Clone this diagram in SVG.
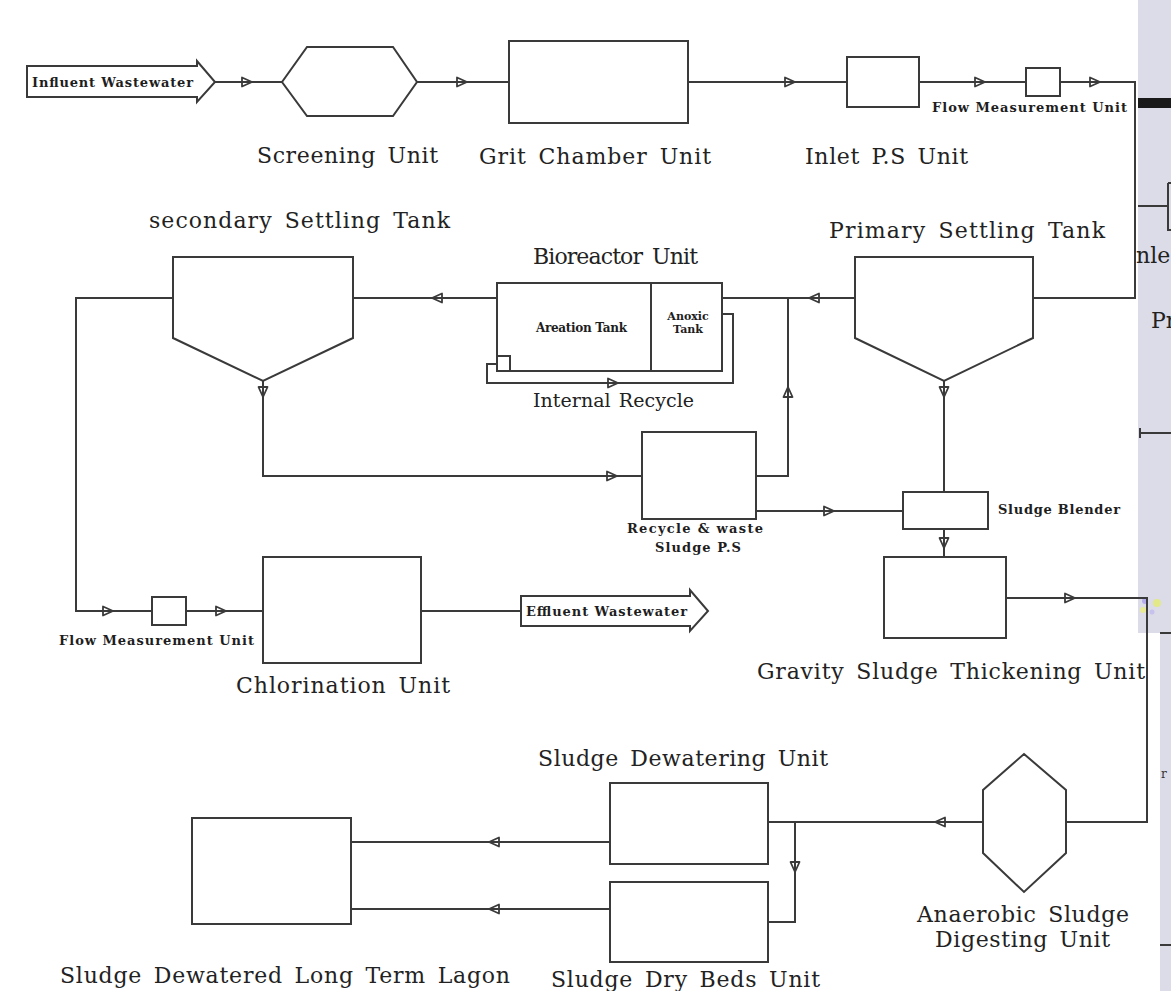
<svg xmlns="http://www.w3.org/2000/svg" width="1171" height="991" viewBox="0 0 1171 991">
<style>
.s{fill:none;stroke:#3a3a3a;stroke-width:2}
.b{fill:#fff;stroke:#3a3a3a;stroke-width:2}
.L{font-family:"DejaVu Serif","Liberation Serif",serif;font-size:22px;fill:#222;word-spacing:4px}
.B{font-family:"DejaVu Serif","Liberation Serif",serif;font-size:13px;font-weight:bold;fill:#1e1e1e}
.ah{fill:none;stroke:#3a3a3a;stroke-width:1.8;stroke-linejoin:round}
.strip{fill:#dcdce8}
</style>
<defs>
<path id="ah" class="ah" d="M-5,-4.5 L5,0 L-5,4.5 Z"/>
</defs>
<rect x="0" y="0" width="1171" height="991" fill="#fff"/>

<g id="side-strip">
<rect class="strip" x="1138" y="0" width="33" height="633"/>
<rect class="strip" x="1160" y="633" width="11" height="358"/>
<rect x="1138" y="98" width="33" height="10" fill="#1a1a1a"/>
<path class="s" d="M1138,206 H1168 M1168,183 V230 H1171 M1168,183 H1171"/>
<path class="s" d="M1140,433 H1171 M1140,428 V438"/>
<path class="s" d="M1160,633 H1171 M1160,945 H1171"/>
<text class="L" x="1136" y="263">nle</text>
<text class="L" x="1151" y="328">Pr</text>
<text x="1161" y="778" font-family="DejaVu Serif,serif" font-size="12" fill="#333">r</text>
<circle cx="1145" cy="601" r="3" fill="#9a8cf0" opacity="0.6"/>
<circle cx="1157" cy="603" r="4" fill="#e6ee60" opacity="0.7"/>
<circle cx="1143" cy="610" r="3" fill="#eef070" opacity="0.7"/>
<circle cx="1152" cy="612" r="2.5" fill="#b8b0f0" opacity="0.6"/>
</g>

<g id="connectors">
<path class="s" d="M215,82 H282"/>
<path class="s" d="M417,82 H509"/>
<path class="s" d="M688,82 H847"/>
<path class="s" d="M919,82 H1026"/>
<path class="s" d="M1060,82 H1135 V298 H1033"/>
<path class="s" d="M855,298 H722"/>
<path class="s" d="M756,476 H788 V298"/>
<path class="s" d="M497,298 H353"/>
<path class="s" d="M173,298 H76 V611 H152"/>
<path class="s" d="M186,611 H263"/>
<path class="s" d="M421,611 H521"/>
<path class="s" d="M263,381 V476 H642"/>
<path class="s" d="M944,381 V492"/>
<path class="s" d="M756,511 H903"/>
<path class="s" d="M944,529 V557"/>
<path class="s" d="M1006,598 H1147 V822 H1066"/>
<path class="s" d="M983,822 H768"/>
<path class="s" d="M795,822 V922 H768"/>
<path class="s" d="M610,842 H351"/>
<path class="s" d="M610,909 H351"/>
<path class="s" d="M498,364 H487 V383 H733 V314 H722"/>
<use href="#ah" transform="translate(247,82)"/>
<use href="#ah" transform="translate(462,82)"/>
<use href="#ah" transform="translate(790,82)"/>
<use href="#ah" transform="translate(980,82)"/>
<use href="#ah" transform="translate(1095,82)"/>
<use href="#ah" transform="translate(814,298) rotate(180)"/>
<use href="#ah" transform="translate(788,392) rotate(-90)"/>
<use href="#ah" transform="translate(437,298) rotate(180)"/>
<use href="#ah" transform="translate(108,611)"/>
<use href="#ah" transform="translate(221,611)"/>
<use href="#ah" transform="translate(263,392) rotate(90)"/>
<use href="#ah" transform="translate(612,476)"/>
<use href="#ah" transform="translate(944,392) rotate(90)"/>
<use href="#ah" transform="translate(829,511)"/>
<use href="#ah" transform="translate(944,543) rotate(90)"/>
<use href="#ah" transform="translate(1070,598)"/>
<use href="#ah" transform="translate(940,822) rotate(180)"/>
<use href="#ah" transform="translate(795,867) rotate(90)"/>
<use href="#ah" transform="translate(494,842) rotate(180)"/>
<use href="#ah" transform="translate(494,909) rotate(180)"/>
<use href="#ah" transform="translate(613,383)"/>
</g>

<g id="influent">
<polygon class="b" points="27,66 197,66 197,61 215,82 197,102 197,97 27,97"/>
<text class="B" x="32" y="87" textLength="161" lengthAdjust="spacing">Influent Wastewater</text>
</g>
<g id="screening">
<polygon class="b" points="282,82 307,47 393,47 417,82 393,116 307,116"/>
<text class="L" x="257" y="163" textLength="181" lengthAdjust="spacing">Screening Unit</text>
</g>
<g id="grit">
<rect class="b" x="509" y="41" width="179" height="82"/>
<text class="L" x="479" y="164" textLength="232" lengthAdjust="spacing">Grit Chamber Unit</text>
</g>
<g id="inlet-ps">
<rect class="b" x="847" y="57" width="72" height="50"/>
<text class="L" x="805" y="164" textLength="163" lengthAdjust="spacing">Inlet P.S Unit</text>
</g>
<g id="flow-1">
<rect class="b" x="1026" y="68" width="34" height="28"/>
<text class="B" x="932" y="112" textLength="195" lengthAdjust="spacing">Flow Measurement Unit</text>
</g>
<g id="primary-settling">
<polygon class="b" points="855,257 1033,257 1033,338 944,381 855,338"/>
<text class="L" x="829" y="238" textLength="276" lengthAdjust="spacing">Primary Settling Tank</text>
</g>
<g id="secondary-settling">
<polygon class="b" points="173,257 353,257 353,338 263,381 173,338"/>
<text class="L" x="149" y="228" textLength="301" lengthAdjust="spacing">secondary Settling Tank</text>
</g>
<g id="bioreactor">
<rect class="b" x="497" y="283" width="225" height="88"/>
<path class="s" d="M651,283 V371"/>
<rect class="b" x="497" y="356" width="13" height="15"/>
<text class="L" x="533" y="264" textLength="165" lengthAdjust="spacing">Bioreactor Unit</text>
<text class="B" x="536" y="332" style="font-size:12px" textLength="91" lengthAdjust="spacing">Areation Tank</text>
<text class="B" x="688" y="320" style="font-size:11px" text-anchor="middle">Anoxic</text>
<text class="B" x="688" y="333" style="font-size:11px" text-anchor="middle">Tank</text>
<text class="L" x="533" y="407" style="font-size:19px;word-spacing:2px" textLength="161" lengthAdjust="spacing">Internal Recycle</text>
</g>
<g id="recycle-ps">
<rect class="b" x="642" y="432" width="114" height="87"/>
<text class="B" x="627" y="533" textLength="136" lengthAdjust="spacing">Recycle &amp; waste</text>
<text class="B" x="655" y="552" textLength="86" lengthAdjust="spacing">Sludge P.S</text>
</g>
<g id="sludge-blender">
<rect class="b" x="903" y="492" width="85" height="37"/>
<text class="B" x="998" y="514" textLength="122" lengthAdjust="spacing">Sludge Blender</text>
</g>
<g id="thickening">
<rect class="b" x="884" y="557" width="122" height="81"/>
<text class="L" x="757" y="679" textLength="388" lengthAdjust="spacing">Gravity Sludge Thickening Unit</text>
</g>
<g id="flow-2">
<rect class="b" x="152" y="597" width="34" height="28"/>
<text class="B" x="59" y="645" textLength="195" lengthAdjust="spacing">Flow Measurement Unit</text>
</g>
<g id="chlorination">
<rect class="b" x="263" y="557" width="158" height="106"/>
<text class="L" x="236" y="693" textLength="214" lengthAdjust="spacing">Chlorination Unit</text>
</g>
<g id="effluent">
<polygon class="b" points="521,596 690,596 690,590 708,611 690,631 690,626 521,626"/>
<text class="B" x="526" y="616" textLength="161" lengthAdjust="spacing">Effluent Wastewater</text>
</g>
<g id="digester">
<polygon class="b" points="1024,754 1066,790 1066,853 1024,892 983,853 983,790"/>
<text class="L" x="917" y="922" textLength="212" lengthAdjust="spacing">Anaerobic Sludge</text>
<text class="L" x="935" y="947" textLength="175" lengthAdjust="spacing">Digesting Unit</text>
</g>
<g id="dewatering">
<rect class="b" x="610" y="783" width="158" height="81"/>
<text class="L" x="538" y="766" textLength="290" lengthAdjust="spacing">Sludge Dewatering Unit</text>
</g>
<g id="dry-beds">
<rect class="b" x="610" y="882" width="158" height="80"/>
<text class="L" x="551" y="987" textLength="269" lengthAdjust="spacing">Sludge Dry Beds Unit</text>
</g>
<g id="lagoon">
<rect class="b" x="192" y="818" width="159" height="106"/>
<text class="L" x="60" y="983" textLength="450" lengthAdjust="spacing">Sludge Dewatered Long Term Lagon</text>
</g>
</svg>
